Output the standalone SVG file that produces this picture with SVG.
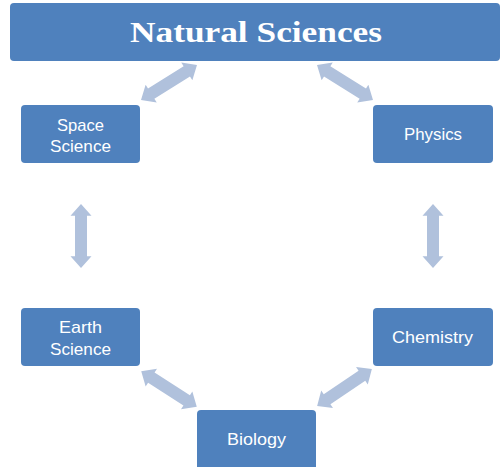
<svg xmlns="http://www.w3.org/2000/svg" width="501" height="467" viewBox="0 0 501 467">
<defs>
<style>
.box{fill:#4F81BD;}
.lbl{fill:#FFFFFF;font-family:"Liberation Sans","Open Sans",sans-serif;font-size:17px;text-anchor:middle;}
.title{fill:#FFFFFF;font-family:"Liberation Serif","Times New Roman",serif;font-weight:bold;font-size:29px;text-anchor:middle;}
.arr{fill:#B0C1DC;}
</style>
<path id="dbl" d="M -33 0 L -21 -10.5 L -21 -6 L 21 -6 L 21 -10.5 L 33 0 L 21 10.5 L 21 6 L -21 6 L -21 10.5 Z"/>
</defs>
<rect width="501" height="467" fill="#FFFFFF"/>
<g id="connectors" class="arr">
<use href="#dbl" transform="translate(169,82.5) rotate(-32)"/>
<use href="#dbl" transform="translate(345,82.5) rotate(32)"/>
<use href="#dbl" transform="translate(81,236) rotate(90) scale(0.97,1)"/>
<use href="#dbl" transform="translate(433,236) rotate(90) scale(0.97,1)"/>
<use href="#dbl" transform="translate(169,389) rotate(32.7)"/>
<use href="#dbl" transform="translate(344.5,387.5) rotate(-34)"/>
</g>
<g id="natural-sciences">
<rect class="box" x="10" y="3" width="490" height="58" rx="4"/>
<text class="title" x="256" y="42" textLength="252" lengthAdjust="spacingAndGlyphs">Natural Sciences</text>
</g>
<g id="space-science">
<rect class="box" x="21" y="105" width="119" height="58" rx="4"/>
<text class="lbl" x="80.5" y="131" textLength="47" lengthAdjust="spacingAndGlyphs">Space</text>
<text class="lbl" x="80.5" y="152" textLength="61" lengthAdjust="spacingAndGlyphs">Science</text>
</g>
<g id="physics">
<rect class="box" x="373" y="105" width="120" height="58" rx="4"/>
<text class="lbl" x="433" y="140" textLength="58" lengthAdjust="spacingAndGlyphs">Physics</text>
</g>
<g id="earth-science">
<rect class="box" x="21" y="308" width="119" height="58" rx="4"/>
<text class="lbl" x="80.5" y="333" textLength="43" lengthAdjust="spacingAndGlyphs">Earth</text>
<text class="lbl" x="80.5" y="355" textLength="61" lengthAdjust="spacingAndGlyphs">Science</text>
</g>
<g id="chemistry">
<rect class="box" x="373" y="308" width="120" height="58" rx="4"/>
<text class="lbl" x="432.5" y="343" textLength="81" lengthAdjust="spacingAndGlyphs">Chemistry</text>
</g>
<g id="biology">
<rect class="box" x="197" y="410" width="119" height="60" rx="4"/>
<text class="lbl" x="256.5" y="445" textLength="59" lengthAdjust="spacingAndGlyphs">Biology</text>
</g>
</svg>
